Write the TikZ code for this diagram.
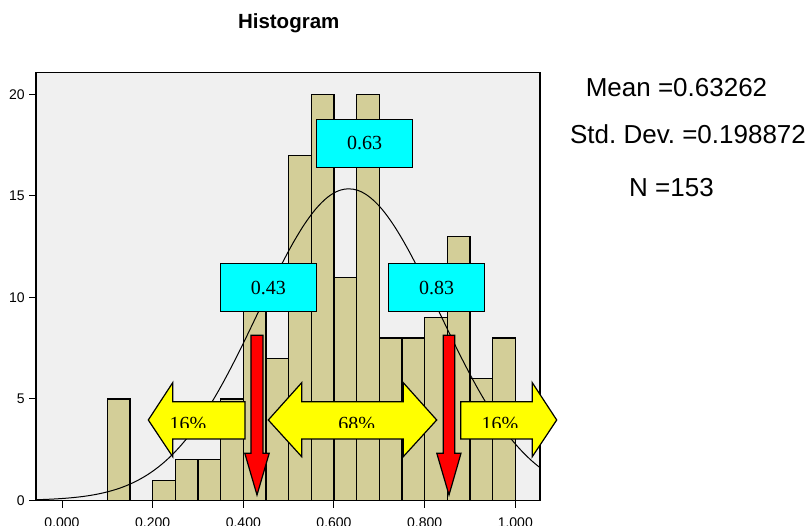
\documentclass[tikz,border=0pt]{standalone}
\usepackage{fontspec}
\setmainfont{Liberation Serif}
\setsansfont{Liberation Sans}
\frenchspacing
\definecolor{plotbg}{RGB}{240,240,240}
\definecolor{bartan}{RGB}{211,206,152}
\definecolor{boxcyan}{RGB}{0,255,255}
\definecolor{arrowyellow}{RGB}{255,255,0}
\definecolor{arrowred}{RGB}{255,0,0}

\begin{document}
\begin{tikzpicture}[x=1pt, y=1pt,
    bar/.style={draw, line width=1.2pt, fill=bartan},
    valbox/.style={draw, line width=1.2pt, fill=boxcyan, minimum width=96pt,
        minimum height=48pt, inner sep=0pt, font=\fontsize{20}{24}\selectfont},
    pct/.style={anchor=base, inner sep=0pt, font=\fontsize{20}{24}\selectfont},
    yarrow/.style={draw, line width=1.2pt, fill=arrowyellow},
    rarrow/.style={draw, line width=1.2pt, fill=arrowred},
    stat/.style={anchor=base, inner sep=0pt, font=\sffamily\fontsize{26}{30}\selectfont},
    ticklbl/.style={inner sep=0pt, font=\sffamily\fontsize{14}{16}\selectfont}]
    \useasboundingbox (0,0) rectangle (812,526);

    % Title
    \node[anchor=base, inner sep=0pt, font=\sffamily\bfseries\fontsize{20.5}{24}\selectfont]
        (title) at (288.7,497.7) {Histogram};

    % Histogram in data units
    \begin{scope}[shift={(62pt,25.5pt)}, x=453.3pt, y=20.3pt]
        \fill[plotbg] (-0.0574,0) rectangle (1.0545,21.1);
        \foreach \b/\n in {0.10/5, 0.20/1, 0.25/2, 0.30/2, 0.35/5, 0.40/11,
                           0.45/7, 0.50/17, 0.55/20, 0.60/11, 0.65/20, 0.70/8,
                           0.75/8, 0.80/9, 0.85/13, 0.90/6, 0.95/8}
            \draw[bar] (\b,0) rectangle ++(0.05,\n);
        % Normal curve
        \draw[line width=1pt] plot[domain=-0.0574:1.0545, samples=120, smooth]
            (\x, {15.35*exp(-((\x-0.63262)^2)/0.0791)});
        \draw[line width=1.1pt] (-0.0574,0) rectangle (1.0545,21.1);
        % Axes
        \foreach \c in {0,5,10,15,20} {
            \draw[line width=1pt] (-0.0574,\c) -- ++(-7pt,0);
            \node[ticklbl, anchor=east] (y\c) at ([xshift=-11pt]-0.0574,\c) {\c};
        }
        \foreach \v/\t in {0/0.000, 0.2/0.200, 0.4/0.400, 0.6/0.600, 0.8/0.800, 1/1.000} {
            \draw[line width=1pt] (\v,0) -- ++(0,-7.5pt);
            \node[ticklbl, anchor=base] (x\v) at ([yshift=-27.5pt]\v,0) {\t};
        }
    \end{scope}

    % Value boxes
    \node[valbox] (meanbox) at (364.7,382.7) {0.63};
    \node[valbox] (lowbox) at (268.3,238.5) {0.43};
    \node[valbox] (highbox) at (436.5,238.5) {0.83};

    % Share arrows
    \draw[yarrow] (148.3,106) -- (172.7,143.3) -- (172.7,124.3) -- (245,124.3)
        -- (245,87) -- (172.7,87) -- (172.7,69.3) -- cycle;
    \draw[yarrow] (268.3,106) -- (301.7,143.3) -- (301.7,124.3) -- (403.3,124.3)
        -- (403.3,143.3) -- (436.7,106) -- (403.3,69.3) -- (403.3,87)
        -- (301.7,87) -- (301.7,69.3) -- cycle;
    \draw[yarrow] (460.7,124.3) -- (532.3,124.3) -- (532.3,143.3) -- (556.7,106)
        -- (532.3,69.3) -- (532.3,87) -- (460.7,87) -- cycle;
    \begin{scope}
        \clip (140,98.5) rectangle (560,130);
        \node[pct] (lowshare) at (188,95.5) {16\%};
        \node[pct] (midshare) at (356.7,95.5) {68\%};
        \node[pct] (highshare) at (500,95.5) {16\%};
    \end{scope}

    % Down arrows
    \draw[rarrow] (250.9,190.7) -- (262.9,190.7) -- (262.9,72.7) -- (269.2,72.7)
        -- (257,31) -- (244.8,72.7) -- (250.9,72.7) -- cycle;
    \draw[rarrow] (443.2,190.7) -- (454.8,190.7) -- (454.8,72.7) -- (461,72.7)
        -- (449,31) -- (436.8,72.7) -- (443.2,72.7) -- cycle;

    % Statistics
    \node[stat] (mean) at (676.5,429.3) {Mean =0.63262};
    \node[stat] (sd) at (688,382) {Std. Dev. =0.198872};
    \node[stat] (n) at (671.5,329.3) {N =153};
\end{tikzpicture}
\end{document}
